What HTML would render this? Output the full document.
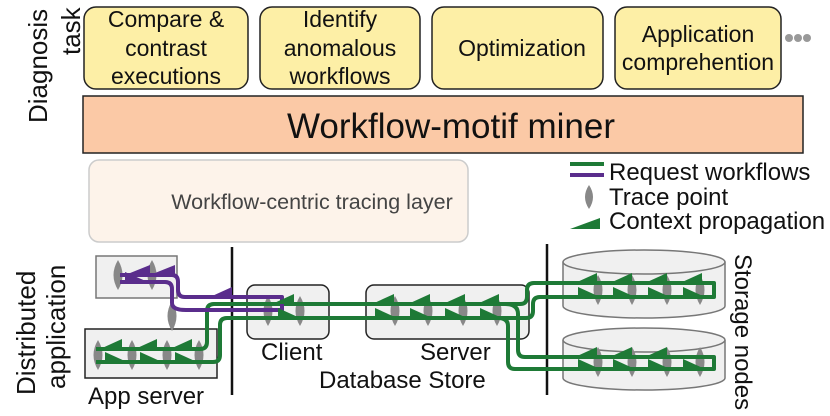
<!DOCTYPE html>
<html><head><meta charset="utf-8"><style>
html,body{margin:0;padding:0;background:#fff}
svg{display:block}
text{font-family:"Liberation Sans",sans-serif;fill:#111}
</style></head><body>
<svg width="830" height="416" viewBox="0 0 830 416" xmlns="http://www.w3.org/2000/svg">
<defs>
<path id="tp" d="M0 -15 Q9 0 0 15 Q-9 0 0 -15Z" fill="#888"/>
<polygon id="tl" points="0,0 22,-10 22,0" fill="#1e7a36"/>
<polygon id="tr" points="0,-10 0,0 22,0" fill="#1e7a36"/>
</defs>
<g stroke="#222" stroke-width="1.5" fill="#fdefa6">
<rect x="84" y="7" width="164" height="82" rx="12"/>
<rect x="260" y="7" width="160" height="82" rx="12"/>
<rect x="432" y="7" width="171" height="82" rx="12"/>
<rect x="615" y="7" width="166" height="82" rx="12"/>
</g>
<g font-size="23" text-anchor="middle">
<text x="166" y="27">Compare &amp;</text><text x="166" y="56">contrast</text><text x="166" y="84">executions</text>
<text x="340" y="27">Identify</text><text x="340" y="56">anomalous</text><text x="340" y="84">workflows</text>
<text x="522" y="56">Optimization</text>
<text x="698" y="42">Application</text><text x="698" y="70">comprehention</text>
</g>
<g fill="#999"><circle cx="789" cy="38" r="4"/><circle cx="798" cy="38" r="4"/><circle cx="807" cy="38" r="4"/></g>
<text font-size="26" transform="translate(47,123) rotate(-90)">Diagnosis</text>
<text font-size="26" transform="translate(80,55) rotate(-90)">task</text>
<rect x="83" y="96" width="720" height="57" fill="#fbc9a6" stroke="#222" stroke-width="1.5"/>
<text x="451" y="138" font-size="35" text-anchor="middle">Workflow-motif miner</text>
<rect x="89" y="160" width="379" height="82" rx="10" fill="#fdf3ea" stroke="#ccc" stroke-width="1.5"/>
<text x="312" y="209" font-size="21.5" text-anchor="middle" style="fill:#444">Workflow-centric tracing layer</text>
<line x1="570" y1="164" x2="604" y2="164" stroke="#1e7a36" stroke-width="4"/>
<line x1="570" y1="175" x2="604" y2="175" stroke="#5a2d8c" stroke-width="4"/>
<path d="M589 185 Q597 197 589 209 Q581 197 589 185Z" fill="#888"/>
<polygon points="570,229 600,218 600,229" fill="#1e7a36"/>
<g font-size="24"><text x="609" y="180">Request workflows</text><text x="609" y="205">Trace point</text><text x="609" y="229">Context propagation</text></g>
<text font-size="26" transform="translate(35,395) rotate(-90)">Distributed</text>
<text font-size="26" transform="translate(65,389) rotate(-90)">application</text>
<text font-size="24" transform="translate(735,254) rotate(90)">Storage nodes</text>
<line x1="232" y1="247" x2="232" y2="395" stroke="#111" stroke-width="2.5"/>
<line x1="547" y1="244" x2="547" y2="395" stroke="#111" stroke-width="2.5"/>
<g fill="#f0f0f0">
<rect x="96" y="256" width="81" height="42" stroke="#777" stroke-width="1.5"/>
<rect x="85" y="329" width="132" height="49" stroke="#222" stroke-width="1.5"/>
<rect x="247" y="285" width="82" height="54" rx="8" stroke="#222" stroke-width="1.5"/>
<rect x="366" y="285" width="163" height="54" rx="8" stroke="#222" stroke-width="1.5"/>
</g>
<g fill="#f0f0f0" stroke="#777" stroke-width="1.5">
<path d="M563 262 V306 A81 12 0 0 0 725 306 V262"/>
<ellipse cx="644" cy="262" rx="81" ry="12"/>
<path d="M563 340 V378 A81 12 0 0 0 725 378 V340"/>
<ellipse cx="644" cy="340" rx="81" ry="12"/>
</g>
<g font-size="24">
<text x="261" y="360">Client</text>
<text x="420" y="360">Server</text>
<text x="319" y="388">Database Store</text>
<text x="88" y="404">App server</text>
</g>
<g>
<use href="#tp" x="118" y="275"/><use href="#tp" x="152" y="275"/><use href="#tp" x="172" y="316"/>
<use href="#tp" x="98" y="355"/><use href="#tp" x="132" y="355"/><use href="#tp" x="167" y="355"/><use href="#tp" x="199" y="355"/>
<use href="#tp" x="268" y="311"/><use href="#tp" x="300" y="311"/>
<use href="#tp" x="395" y="311"/><use href="#tp" x="428" y="311"/><use href="#tp" x="463" y="311"/><use href="#tp" x="497" y="311"/>
<use href="#tp" x="598" y="290"/><use href="#tp" x="632" y="290"/><use href="#tp" x="667" y="290"/><use href="#tp" x="700" y="290"/>
<use href="#tp" x="598" y="362"/><use href="#tp" x="632" y="362"/><use href="#tp" x="667" y="362"/><use href="#tp" x="700" y="362"/>
</g>
<g fill="none" stroke-width="4" stroke-linejoin="round">
<path stroke="#1e7a36" d="M96 349 H200 Q207 349 207 342 V311 Q207 304 214 304 H520 Q527 304 527 297 V290 Q527 283 534 283 H714 V297 H540 Q533 297 533 304 V311 Q533 318 526 318 H227 Q220 318 220 325 V355 Q220 362 213 362 H96"/>
<path stroke="#1e7a36" d="M505 304 Q518 304 518 314 V350 Q518 357 525 357 H714 V369 H515 Q508 369 508 362 V326 Q508 318 498 318"/>
<path stroke="#5a2d8c" d="M120 275 H172 Q178 275 178 282 V290 Q178 297 185 297 H282 V310 H186 Q172 310 172 303 V289 Q172 282 165 282 H120"/>
</g>
<g>
<use href="#tl" x="100" y="349"/><use href="#tl" x="135" y="349"/><use href="#tl" x="170" y="349"/>
<use href="#tr" x="105" y="362"/><use href="#tr" x="140" y="362"/><use href="#tr" x="175" y="362"/>
<use href="#tl" x="272" y="304"/><use href="#tr" x="278" y="318"/>
<use href="#tl" x="372" y="304"/><use href="#tl" x="408" y="304"/><use href="#tl" x="443" y="304"/><use href="#tl" x="477" y="304"/>
<use href="#tr" x="375" y="318"/><use href="#tr" x="410" y="318"/><use href="#tr" x="445" y="318"/><use href="#tr" x="480" y="318"/>
<use href="#tl" x="575" y="283"/><use href="#tl" x="610" y="283"/><use href="#tl" x="645" y="283"/><use href="#tl" x="680" y="283"/>
<use href="#tr" x="578" y="297"/><use href="#tr" x="613" y="297"/><use href="#tr" x="648" y="297"/><use href="#tr" x="683" y="297"/>
<use href="#tl" x="575" y="357"/><use href="#tl" x="610" y="357"/><use href="#tl" x="645" y="357"/>
<use href="#tr" x="578" y="369"/><use href="#tr" x="613" y="369"/><use href="#tr" x="648" y="369"/><use href="#tr" x="683" y="369"/>
</g>
<g fill="#5a2d8c">
<polygon points="125,275 150,265 150,275"/><polygon points="150,275 175,265 175,275"/>
<polygon points="125,282 125,272 148,282"/>
<polygon points="210,297 232,287 232,297"/>
</g>
</svg>
</body></html>
